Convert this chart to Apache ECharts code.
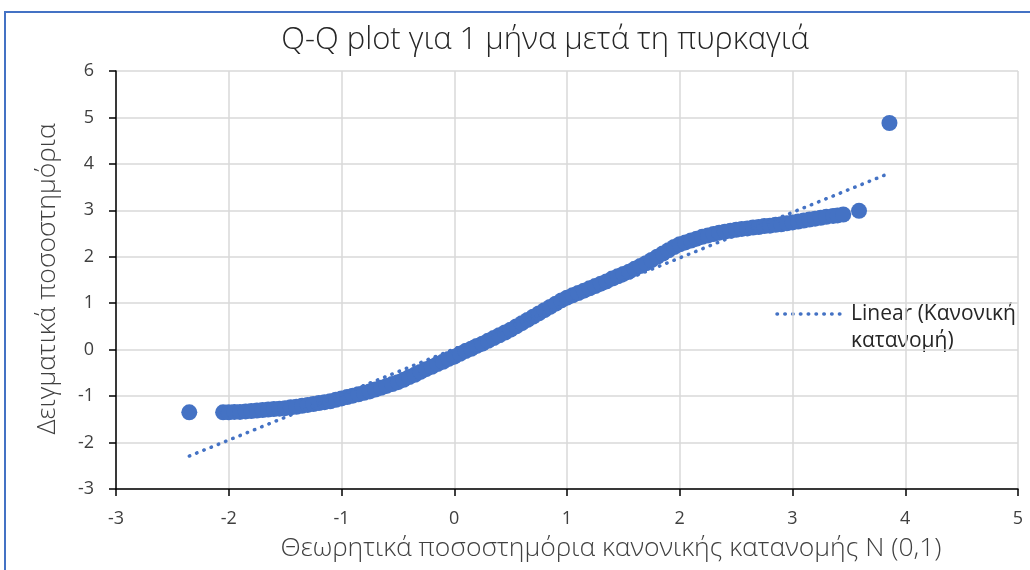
<!DOCTYPE html>
<html>
<head>
<meta charset="utf-8">
<script src="https://cdn.jsdelivr.net/npm/echarts@6/dist/echarts.min.js"></script>
<style>
  html, body { margin: 0; padding: 0; background: #fff; }
  #chart { width: 1030px; height: 570px; }
</style>
</head>
<body>
<div id="chart"></div>
<script>
// Theoretical N(0,1) quantiles (x) and sample quantiles (y)
const theoreticalQ = [
  -2.35, -2.05, -2.00, -1.95, -1.90, -1.85, -1.80, -1.75, -1.70, -1.65, -1.60,
  -1.55, -1.50, -1.45, -1.40, -1.35, -1.30, -1.25, -1.20, -1.15, -1.10,
  -1.05, -1.00, -0.95, -0.90, -0.85, -0.80, -0.75, -0.70, -0.65, -0.60,
  -0.55, -0.50, -0.45, -0.40, -0.35, -0.30, -0.25, -0.20, -0.15, -0.10,
  -0.05, 0.00, 0.05, 0.10, 0.15, 0.20, 0.25, 0.30, 0.35, 0.40,
  0.45, 0.50, 0.55, 0.60, 0.65, 0.70, 0.75, 0.80, 0.85, 0.90,
  0.95, 1.00, 1.05, 1.10, 1.15, 1.20, 1.25, 1.30, 1.35, 1.40,
  1.45, 1.50, 1.55, 1.60, 1.65, 1.70, 1.75, 1.80, 1.85, 1.90,
  1.95, 2.00, 2.05, 2.10, 2.15, 2.20, 2.25, 2.30, 2.35, 2.40,
  2.45, 2.50, 2.55, 2.60, 2.65, 2.70, 2.75, 2.80, 2.85, 2.90,
  2.95, 3.00, 3.05, 3.10, 3.15, 3.20, 3.25, 3.30, 3.36, 3.40,
  3.45, 3.59, 3.86
];
const sampleQ = [
  -1.35, -1.35, -1.35, -1.34, -1.34, -1.33, -1.32, -1.31, -1.30, -1.29, -1.28,
  -1.27, -1.26, -1.24, -1.23, -1.21, -1.19, -1.17, -1.15, -1.13, -1.11,
  -1.08, -1.05, -1.02, -0.99, -0.96, -0.93, -0.90, -0.86, -0.82, -0.78,
  -0.74, -0.70, -0.65, -0.59, -0.54, -0.48, -0.42, -0.37, -0.31, -0.26,
  -0.20, -0.15, -0.09, -0.03, 0.02, 0.08, 0.13, 0.19, 0.25, 0.31,
  0.37, 0.43, 0.50, 0.57, 0.64, 0.71, 0.78, 0.85, 0.92, 0.99,
  1.06, 1.12, 1.17, 1.22, 1.27, 1.32, 1.37, 1.42, 1.47, 1.53,
  1.58, 1.63, 1.68, 1.74, 1.80, 1.86, 1.93, 2.00, 2.07, 2.14,
  2.21, 2.27, 2.31, 2.35, 2.39, 2.43, 2.46, 2.49, 2.52, 2.54,
  2.56, 2.58, 2.60, 2.61, 2.63, 2.64, 2.66, 2.67, 2.69, 2.70,
  2.72, 2.74, 2.76, 2.78, 2.80, 2.82, 2.84, 2.86, 2.88, 2.89,
  2.91, 2.99, 4.88
];
// Linear trendline end points
const trendX = [-2.35, 3.86];
const trendY = [-2.29, 3.80];

const xTicks = [-3, 5, 1];   // min, max, step
const yTicks = [-3, 6, 1];

const titleText = 'Q-Q plot για 1 μήνα μετά τη πυρκαγιά';
const xTitle = 'Θεωρητικά ποσοστημόρια κανονικής κατανομής Ν (0,1)';
const yTitle = 'Δειγματικά ποσοστημόρια';
const legendLines = ['Linear (Κανονική', 'κατανομή)'];

const BLUE = '#4472C4';
const LIGHT = "'Open Sans', 'Noto Sans', sans-serif";
const REG = "'Open Sans', 'Noto Sans', sans-serif";

const chart = echarts.init(document.getElementById('chart'), null, { renderer: 'canvas' });

const GRID = { left: 116, top: 71, width: 902, height: 418 };

chart.setOption({
  backgroundColor: '#ffffff',
  animation: false,
  title: {
    text: titleText,
    left: 540, top: 20,
    textAlign: 'center',
    textStyle: { fontFamily: LIGHT, fontSize: 31, fontWeight: 300, color: '#262626' }
  },
  grid: GRID,
  xAxis: {
    type: 'value', min: xTicks[0], max: xTicks[1], interval: xTicks[2],
    axisLine: { onZero: false, lineStyle: { color: '#000', width: 1.5 } },
    axisTick: { show: true, length: 7, lineStyle: { color: '#000', width: 1.5 } },
    axisLabel: { margin: 21, fontFamily: REG, fontSize: 18, color: '#404040' },
    splitLine: { show: true, lineStyle: { color: '#d9d9d9', width: 1.5 } }
  },
  yAxis: {
    type: 'value', min: yTicks[0], max: yTicks[1], interval: yTicks[2],
    axisLine: { onZero: false, show: true, lineStyle: { color: '#000', width: 1.5 } },
    axisTick: { show: true, length: 7, lineStyle: { color: '#000', width: 1.5 } },
    axisLabel: { margin: 22, fontFamily: REG, fontSize: 18, color: '#404040' },
    splitLine: { show: true, lineStyle: { color: '#d9d9d9', width: 1.5 } }
  },
  series: [
    {
      name: 'Δείγμα',
      type: 'scatter',
      symbol: 'circle',
      symbolSize: 16,
      itemStyle: { color: BLUE, opacity: 1 },
      data: theoreticalQ.map((x, i) => [x, sampleQ[i]])
    },
    {
      name: legendLines.join(' '),
      type: 'line',
      showSymbol: false,
      symbol: 'none',
      lineStyle: { color: BLUE, width: 3.5, type: [0.5, 7.3], cap: 'round' },
      data: trendX.map((x, i) => [x, trendY[i]]),
      z: 3
    }
  ],
  graphic: [
    // chart frame (top and left edges visible)
    { type: 'rect', silent: true, z: 100,
      shape: { x: 5, y: 12, width: 1200, height: 700 },
      style: { fill: 'none', stroke: BLUE, lineWidth: 2 } },
    { type: 'text', silent: true, x: 611, y: 548,
      style: { text: xTitle, align: 'center', verticalAlign: 'middle',
               font: "300 26.5px " + LIGHT, fill: '#404040' } },
    { type: 'text', silent: true, x: 47, y: 279, rotation: Math.PI / 2,
      style: { text: yTitle, align: 'center', verticalAlign: 'middle',
               font: "300 26.5px " + LIGHT, fill: '#404040' } },
    // legend entry for the trendline
    { type: 'line', silent: true,
      shape: { x1: 777, y1: 314, x2: 845, y2: 314 },
      style: { stroke: BLUE, lineWidth: 3.5, lineDash: [0.5, 7.3], lineCap: 'round' } },
    { type: 'text', silent: true, x: 851, y: 314,
      style: { text: legendLines[0], verticalAlign: 'middle', font: "21px " + REG, fill: '#262626' } },
    { type: 'text', silent: true, x: 851, y: 341,
      style: { text: legendLines[1], verticalAlign: 'middle', font: "21px " + REG, fill: '#262626' } }
  ]
});
</script>
</body>
</html>
